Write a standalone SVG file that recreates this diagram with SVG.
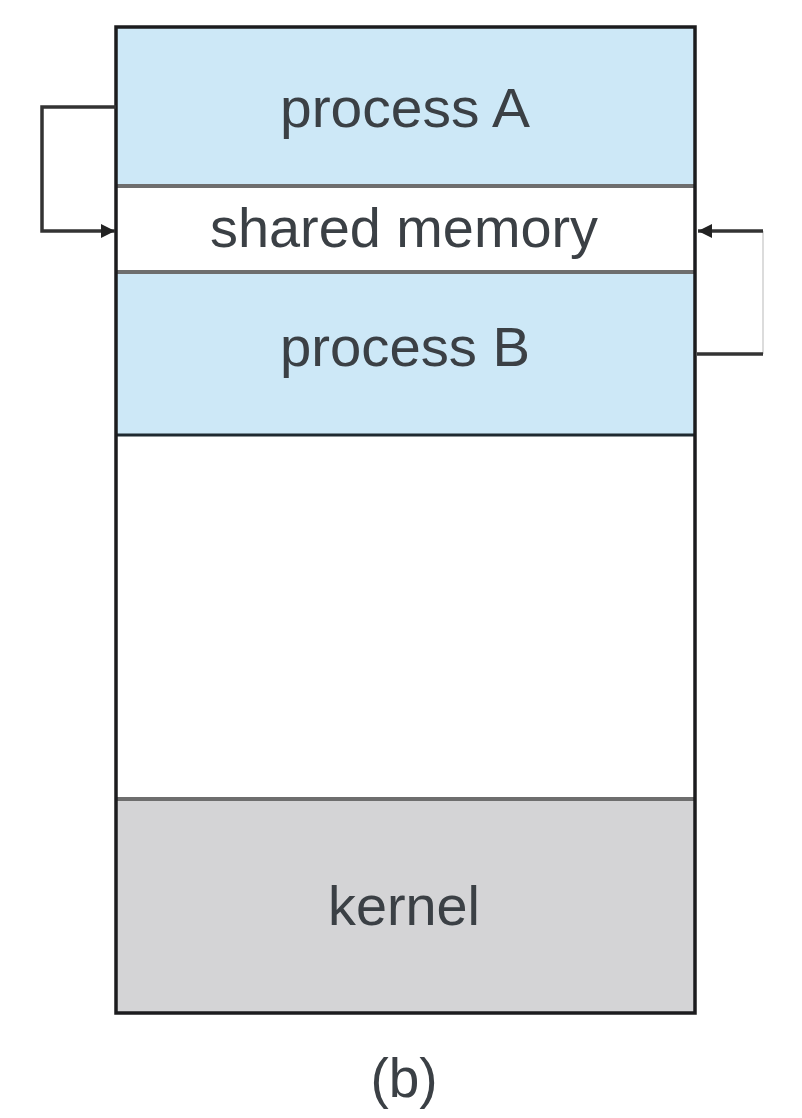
<svg xmlns="http://www.w3.org/2000/svg" width="802" height="1118" viewBox="0 0 802 1118">
<style>
.lbl{font-family:"Liberation Sans",Arial,sans-serif;font-size:55px;fill:#3b4045;text-anchor:middle}
.conn{fill:none;stroke:#333;stroke-width:3.5}
.div{stroke:#6e6e6e;stroke-width:4}
</style>
<defs>
<marker id="ah" viewBox="0 0 10 10" refX="10" refY="5" markerWidth="4" markerHeight="4" orient="auto" markerUnits="strokeWidth">
<path d="M0,0 L10,5 L0,10 z" fill="#222"/>
</marker>
</defs>
<rect width="802" height="1118" fill="#fff"/>
<g id="processA">
<rect x="116" y="27" width="579" height="159" fill="#cde8f7"/>
<text class="lbl" x="405" y="127" textLength="250" lengthAdjust="spacingAndGlyphs">process A</text>
</g>
<g id="shared">
<rect x="116" y="186" width="579" height="86" fill="#fff"/>
<text class="lbl" x="404" y="247" textLength="388" lengthAdjust="spacingAndGlyphs">shared memory</text>
</g>
<g id="processB">
<rect x="116" y="272" width="579" height="163" fill="#cde8f7"/>
<text class="lbl" x="405" y="366" textLength="250" lengthAdjust="spacingAndGlyphs">process B</text>
</g>
<g id="free">
<rect x="116" y="435" width="579" height="364" fill="#fff"/>
</g>
<g id="kernel">
<rect x="116" y="799" width="579" height="214" fill="#d4d4d6"/>
<text class="lbl" x="404" y="925" textLength="152" lengthAdjust="spacingAndGlyphs">kernel</text>
</g>
<g id="dividers">
<line class="div" x1="116" y1="186" x2="695" y2="186"/>
<line class="div" x1="116" y1="272" x2="695" y2="272"/>
<line x1="116" y1="435" x2="695" y2="435" stroke="#1f2a30" stroke-width="3"/>
<line class="div" x1="116" y1="799" x2="695" y2="799"/>
<rect x="116" y="27" width="579" height="986" fill="none" stroke="#1c1c1e" stroke-width="3.5"/>
</g>
<g id="connectors">
<path class="conn" d="M116,107 H42 V231 H115" marker-end="url(#ah)"/>
<line x1="763" y1="231" x2="763" y2="354" stroke="#d0d0d0" stroke-width="1.5"/>
<path class="conn" d="M763,231 H698" marker-end="url(#ah)"/>
<path class="conn" d="M763,354 H697" stroke="#555"/>
</g>
<text class="lbl" x="404" y="1097" fill="#3b3b3b">(b)</text>
</svg>
